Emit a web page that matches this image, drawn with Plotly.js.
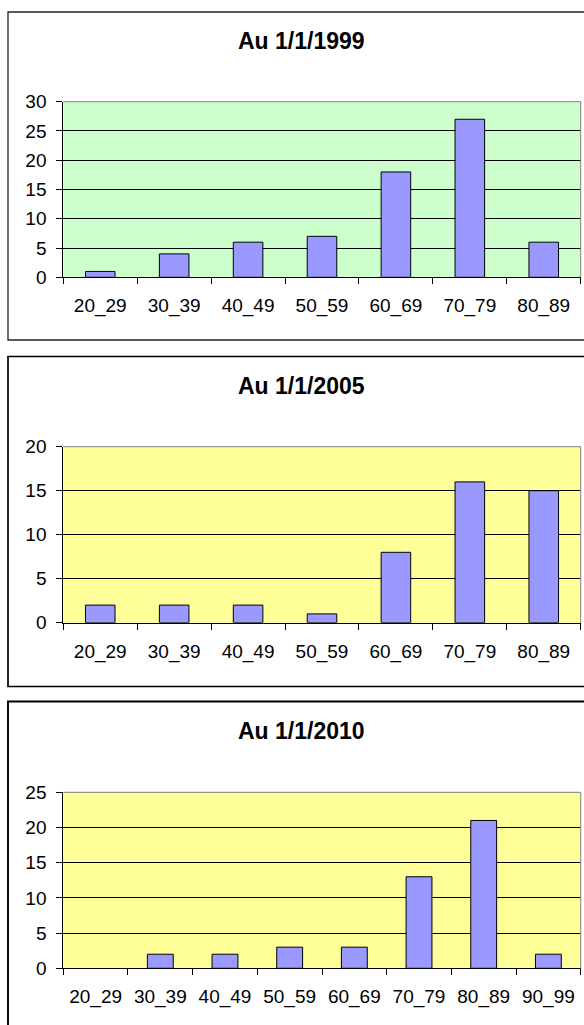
<!DOCTYPE html>
<html>
<head>
<meta charset="utf-8">
<script src="https://cdn.plot.ly/plotly-3.0.1.min.js"></script>
<style>
html,body{margin:0;padding:0;background:#fff;}
#chart{width:584px;height:1025px;}
</style>
</head>
<body>
<div id="chart"></div>
<script>
// ---- data ----
const titles = ["Au 1/1/1999", "Au 1/1/2005", "Au 1/1/2010"];
const cats1999 = ["20_29","30_39","40_49","50_59","60_69","70_79","80_89"];
const vals1999 = [1, 4, 6, 7, 18, 27, 6];
const cats2005 = ["20_29","30_39","40_49","50_59","60_69","70_79","80_89"];
const vals2005 = [2, 2, 2, 1, 8, 16, 15];
const cats2010 = ["20_29","30_39","40_49","50_59","60_69","70_79","80_89","90_99"];
const vals2010 = [0, 2, 2, 3, 3, 13, 21, 2];
const yMax = [30, 20, 25];

// ---- geometry (pixels) ----
const W = 584, H = 1025;
const px = x => x / W;
const py = y => 1 - y / H;
const plotL = 63.3, plotR = 580.7;
const plots = [[101.7, 277.3], [446.7, 622.7], [792.3, 968.3]];
const boxes = [[12, 340, 1.3, '#222'], [356.5, 686.5, 1.7, '#000'], [701.5, 1030, 1.9, '#000']];
const titleY = [41, 386, 731];
const bgs = ['#CCFFCC', '#FFFF99', '#FFFF99'];

const FONT = '"Liberation Sans", Arial, sans-serif';
const cats = [cats1999, cats2005, cats2010];
const vals = [vals1999, vals2005, vals2010];

const traces = [];
const layout = {
  width: W, height: H,
  margin: {l: 0, r: 0, t: 0, b: 0},
  paper_bgcolor: '#fff',
  showlegend: false,
  bargap: 0.6,
  font: {family: FONT, size: 19, color: '#000'},
  shapes: [],
  annotations: []
};

for (let i = 0; i < 3; i++) {
  const n = i === 0 ? '' : String(i + 1);
  traces.push({
    type: 'bar',
    x: cats[i], y: vals[i],
    xaxis: 'x' + n, yaxis: 'y' + n,
    marker: {color: '#9999FF', line: {color: '#000', width: vals[i].map(v => v === 0 ? 0 : 1)}},
    hoverinfo: 'x+y'
  });
  layout['xaxis' + n] = {
    domain: [px(plotL), px(plotR)],
    anchor: 'y' + n,
    type: 'category',
    tickson: 'boundaries',
    ticks: 'outside', ticklen: 6, tickwidth: 1, tickcolor: '#000',
    ticklabelstandoff: 11,
    showline: true, linecolor: '#000', linewidth: 1,
    showgrid: false, zeroline: false,
    tickfont: {family: FONT, size: 19, color: '#000'},
    fixedrange: true
  };
  layout['yaxis' + n] = {
    domain: [py(plots[i][1]), py(plots[i][0])],
    anchor: 'x' + n,
    range: [0, yMax[i]],
    dtick: 5, tick0: 0,
    ticks: 'outside', ticklen: 6, tickwidth: 1, tickcolor: '#000',
    ticklabelstandoff: 6,
    showline: true, linecolor: '#000', linewidth: 1,
    showgrid: true, gridcolor: '#000', gridwidth: 1,
    zeroline: false,
    tickfont: {family: FONT, size: 19, color: '#000'},
    fixedrange: true
  };
  // plot background
  layout.shapes.push({
    type: 'rect', xref: 'paper', yref: 'paper', layer: 'below',
    x0: px(plotL), x1: px(plotR), y0: py(plots[i][1]), y1: py(plots[i][0]),
    fillcolor: bgs[i], line: {width: 0}
  });
  // gray top & right border
  layout.shapes.push({
    type: 'line', xref: 'paper', yref: 'paper', layer: 'above',
    x0: px(plotL), x1: px(plotR), y0: py(plots[i][0]), y1: py(plots[i][0]),
    line: {color: '#808080', width: 1}
  });
  layout.shapes.push({
    type: 'line', xref: 'paper', yref: 'paper', layer: 'above',
    x0: px(plotR), x1: px(plotR), y0: py(plots[i][0]), y1: py(plots[i][1]),
    line: {color: '#808080', width: 1}
  });
  // outer chart box
  layout.shapes.push({
    type: 'rect', xref: 'paper', yref: 'paper', layer: 'above',
    x0: px(8), x1: px(600), y0: py(boxes[i][1]), y1: py(boxes[i][0]),
    line: {color: boxes[i][3], width: boxes[i][2]}, fillcolor: 'rgba(0,0,0,0)'
  });
  // title
  layout.annotations.push({
    text: '<b>' + titles[i] + '</b>',
    xref: 'paper', yref: 'paper',
    x: px(301.5), y: py(titleY[i]),
    xanchor: 'center', yanchor: 'middle',
    showarrow: false,
    font: {family: FONT, size: 23, color: '#000'}
  });
}

Plotly.newPlot('chart', traces, layout, {displayModeBar: false, staticPlot: true});
</script>
</body>
</html>
